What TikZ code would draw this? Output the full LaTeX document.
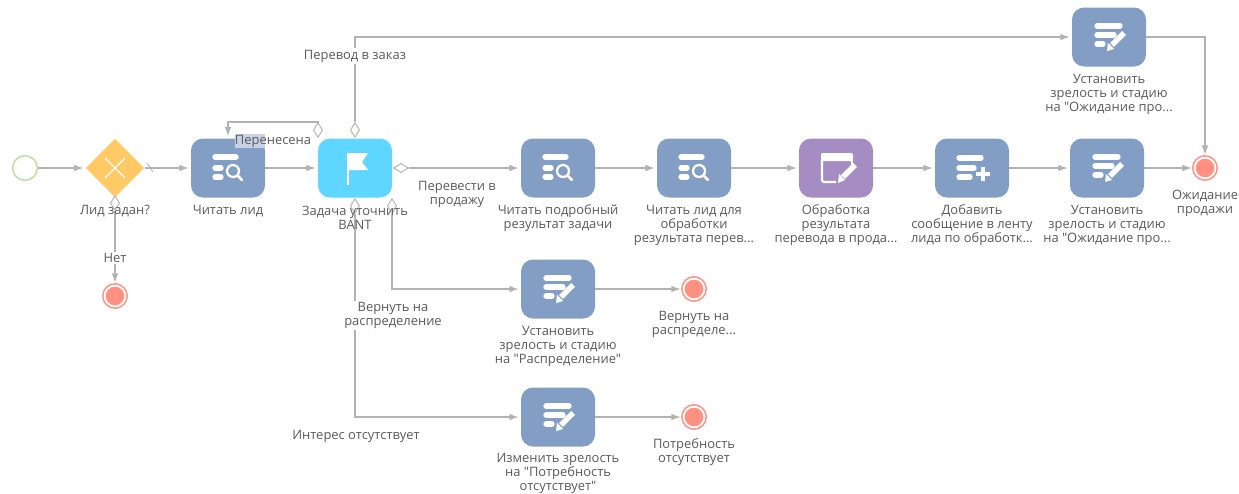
\documentclass[tikz,border=0pt]{standalone}
\usepackage{fontspec}
\newfontfamily\labelfont[Mapping=]{Open Sans}
\usetikzlibrary{arrows.meta,shapes.geometric}
\definecolor{taskblue}{HTML}{839EC4}
\definecolor{flagblue}{HTML}{5FD6FF}
\definecolor{procpurple}{HTML}{A58DC3}
\definecolor{gateorange}{HTML}{FFCA66}
\definecolor{endred}{HTML}{FF9082}
\definecolor{startgreen}{HTML}{B9DE9E}
\definecolor{flowgray}{HTML}{B2B2B2}
\definecolor{labelgray}{HTML}{5A5A5A}
\tikzset{
  pics/readicon/.style={code={
    \draw[icon] (-13,-11) -- (8,-11);
    \draw[icon] (-13,0) -- (-7,0);
    \draw[icon] (-13,9) -- (-7,9);
    \draw[white,line width=1.7pt] (5,3) circle (6);
    \draw[white,line width=2pt,line cap=round] (10,8) -- (14,12);
  }},
  pics/editicon/.style={code={
    \draw[icon] (-12,-11) -- (11,-11);
    \draw[icon] (-12,-2) -- (5,-2);
    \draw[icon] (-12,7) -- (-6,7);
    \draw[white,line width=4pt] (3,8) -- (15,-4);
    \fill[white] (-2,14) -- (-1,6) -- (5,12) -- cycle;
  }},
  pics/addicon/.style={code={
    \draw[icon] (-13,-10) -- (9,-10);
    \draw[icon] (-13,0) -- (2,0);
    \draw[icon] (-13,9) -- (-2,9);
    \draw[white,line width=2.6pt] (11,-1) -- (11,13);
    \draw[white,line width=2.6pt] (4,6) -- (18,6);
  }},
  pics/formicon/.style={code={
    \fill[white,rounded corners=1.5pt] (-15,-15) rectangle (17,-7);
    \draw[white,line width=1.6pt,rounded corners=1.5pt] (-14,-8) -- (-14,14) -- (0,14);
    \draw[white,line width=1.6pt] (16,-8) -- (16,-3);
    \draw[white,line width=4pt] (7,9) -- (19,-3);
    \fill[white] (2,15) -- (3,6) -- (9,12) -- cycle;
  }},
  pics/flagicon/.style={code={
    \fill[white] (-7,-15) -- (13,-15) -- (7,-6) -- (13,2) -- (-7,2) -- cycle;
    \draw[white,line width=1.5pt] (-7,-15) -- (-7,17);
  }},
  icon/.style={white,line width=4pt,line cap=round},
  taskbox/.style={rectangle,rounded corners=9pt,fill=taskblue,minimum width=55.5pt,minimum height=44.25pt,inner sep=0pt},
  endevent/.style={circle,draw=endred,fill=endred,line width=1.2pt,double=white,double distance=1.4pt,minimum size=15.6pt,inner sep=0pt},
  flow/.style={flowgray,line width=1pt,-{Latex[length=7pt,width=5pt]},shorten >=1.5pt},
  condv/.style={diamond,draw=flowgray,fill=white,line width=0.7pt,inner sep=0pt,minimum width=7pt,minimum height=11pt},
  condh/.style={diamond,draw=flowgray,fill=white,line width=0.7pt,inner sep=0pt,minimum width=11pt,minimum height=7pt},
  txt/.style={text=labelgray,font=\labelfont\fontsize{9.7pt}{10.5pt}\selectfont,align=center,inner sep=1pt}
}
\begin{document}
\begin{tikzpicture}[x=0.75pt,y=-0.75pt]
  \useasboundingbox (0,0) rectangle (1239,493);

  % events and gateway
  \node (start) at (25,168) [circle,draw=startgreen,fill=white,line width=1.1pt,minimum size=18.5pt,inner sep=0pt]{};
  \node (gate) at (115,168) [diamond,fill=gateorange,inner sep=0pt,minimum size=44pt]{};
  \node (endno) at (115,296) [endevent]{};
  \node (endwait) at (1205,168) [endevent]{};
  \node (enddist) at (694,289) [endevent]{};
  \node (endneed) at (694,417) [endevent]{};

  % tasks
  \node (readlead) at (228,168) [taskbox]{};
  \node (task) at (355,168) [taskbox,fill=flagblue]{};
  \node (readdetail) at (558,168) [taskbox]{};
  \node (readresult) at (694,168) [taskbox]{};
  \node (process) at (836,168) [taskbox,fill=procpurple]{};
  \node (addfeed) at (972,168) [taskbox]{};
  \node (setwait) at (1107,168) [taskbox]{};
  \node (settop) at (1109,37) [taskbox]{};
  \node (setdist) at (558,289) [taskbox]{};
  \node (setneed) at (558,417) [taskbox]{};

  \pic at (228,168) {readicon};
  \pic at (355,168) {flagicon};
  \pic at (558,168) {readicon};
  \pic at (694,168) {readicon};
  \pic at (836,168) {formicon};
  \pic at (972,168) {addicon};
  \pic at (1107,168) {editicon};
  \pic at (1109,37) {editicon};
  \pic at (558,289) {editicon};
  \pic at (558,417) {editicon};

  \draw[white,line width=1pt] (105,158) -- (125,178);
  \draw[white,line width=1pt] (125,158) -- (105,178);

  % diamonds on the flows
  \node (dgate) at (115,203) [condv]{};
  \node (dback) at (318,130) [condv]{};
  \node (dup) at (355,130) [condv]{};
  \node (dright) at (401,168) [condh]{};
  \node (ddown) at (355,206) [condv]{};
  \node (ddist) at (392,206) [condv]{};
  \coordinate (bend) at (318,122);

  % flows
  \draw[flow] (start) -- (gate);
  \draw[flow] (gate) -- (readlead);
  \draw[flowgray,line width=0.6pt] (147,163) -- (153,172);
  \draw[flow] (readlead) -- (task);
  \draw[flow] (dgate) -- (endno);
  \draw[flow] (dback.north) -- (bend) -| (readlead);
  \draw[flow] (dup.north) |- (settop);
  \draw[flow] (settop) -| (endwait);
  \draw[flow] (dright) -- (readdetail);
  \draw[flow] (readdetail) -- (readresult);
  \draw[flow] (readresult) -- (process);
  \draw[flow] (process) -- (addfeed);
  \draw[flow] (addfeed) -- (setwait);
  \draw[flow] (setwait) -- (endwait);
  \draw[flow] (ddown.south) |- (setneed);
  \draw[flow] (ddist.south) |- (setdist);
  \draw[flow] (setdist) -- (enddist);
  \draw[flow] (setneed) -- (endneed);

  % labels
  \fill[taskblue!45] (235,134) rectangle (265,148);
  \node (lperen) at (273,141) [txt]{Перенесена};
  \node (lgate) at (115,211) [txt]{Лид задан?};
  \node (lread) at (228,211) [txt]{Читать лид};
  \node (ltask) at (355,217.5) [txt]{Задача уточнить\\BANT};
  \node (lsale) at (457,194.5) [txt]{Перевести в\\продажу};
  \node (lorder) at (355,56) [txt,fill=white]{Перевод в заказ};
  \node (lno) at (115,258) [txt,fill=white]{Нет};
  \node (ldetail) at (558,218) [txt]{Читать подробный\\результат задачи};
  \node (lresult) at (694,225) [txt]{Читать лид для\\обработки\\результата перев...};
  \node (lprocess) at (836,225) [txt]{Обработка\\результата\\перевода в прода...};
  \node (lfeed) at (972,225) [txt]{Добавить\\сообщение в ленту\\лида по обработк...};
  \node (lwait) at (1107,225) [txt]{Установить\\зрелость и стадию\\на "Ожидание про...};
  \node (ltop) at (1109,94) [txt]{Установить\\зрелость и стадию\\на "Ожидание про...};
  \node (lendwait) at (1205,203) [txt]{Ожидание\\продажи};
  \node (lback) at (393,315) [txt,fill=white]{Вернуть на\\распределение};
  \node (ldist) at (558,346) [txt]{Установить\\зрелость и стадию\\на "Распределение"};
  \node (lenddist) at (694,324) [txt]{Вернуть на\\распределе...};
  \node (lnone) at (356,436) [txt]{Интерес отсутствует};
  \node (lneed) at (558,473) [txt]{Изменить зрелость\\на "Потребность\\отсутствует"};
  \node (lendneed) at (694,452) [txt]{Потребность\\отсутствует};
\end{tikzpicture}
\end{document}
